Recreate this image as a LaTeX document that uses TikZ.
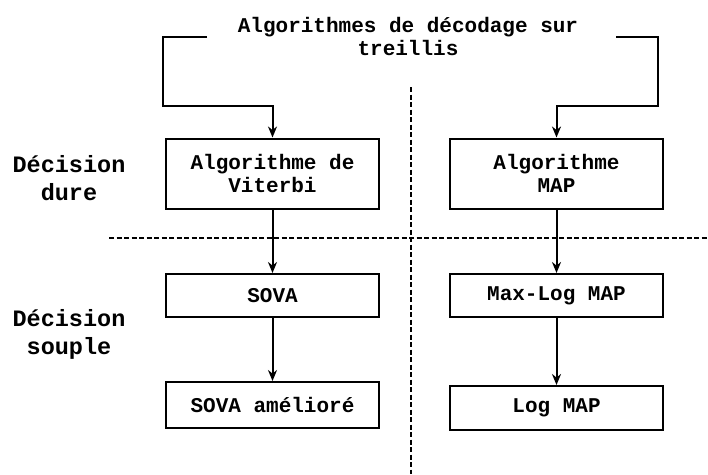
\documentclass[tikz,border=0pt]{standalone}
\usepackage{fontspec}
\setmainfont{Liberation Mono}
\usetikzlibrary{positioning,arrows.meta}
\begin{document}
\begin{tikzpicture}
         [x=1pt, y=-1pt, node distance=1.5cm,
          algo box/.style={rectangle,draw,line width=2pt,minimum width=213pt,
             align=center,inner sep=0pt,font=\fontsize{21}{23}\bfseries},
          level label/.style={align=center,font=\fontsize{23.5}{28}\bfseries},
          split line/.style={line width=1.5pt,dash pattern=on 5pt off 2.5pt},
          link/.style={-{Stealth[length=11pt,width=9pt]},line width=2pt}]
         \useasboundingbox (0,0) rectangle (708,474);
         \node[align=center,font=\fontsize{21}{23}\bfseries] (title) at (408,36)
            {Algorithmes de décodage sur\\treillis};
         \node[algo box, minimum height=70pt] (viterbi) at (272.5,173.5) {Algorithme de\\Viterbi};
         \node[algo box, minimum height=70pt] (map) at (556.5,173.5) {Algorithme\\MAP};
         \node[algo box, minimum height=43pt] (sova) at (272.5,295.5) {SOVA};
         \node[algo box, minimum height=43pt] (maxlog) at (556.5,295.5) {Max-Log MAP};
         \node[algo box, minimum height=46pt] (sovaplus) at (272.5,405) {SOVA amélioré};
         \node[algo box, minimum height=44pt] (logmap) at (556.5,408) {Log MAP};
         
         \node[level label] (hard) at (69,178) {Décision\\dure};
         \node[level label] (soft) at (69,334) {Décision\\souple};
         
         \coordinate (tl) at (207,37);
         \coordinate (tr) at (616,37);
         \draw[link] (tl) -- (163,37) -- (163,106) -| (viterbi.north);
         \draw[link] (tr) -- (658,37) -- (658,106) -| (map.north);
         
         \draw[link] (viterbi) -- (sova);
         \draw[link] (sova) -- (sovaplus);
         \draw[link] (map) -- (maxlog);
         \draw[link] (maxlog) -- (logmap);
         
         \draw[split line] (109,238) -- (708,238);
         \draw[split line] (411,87) -- (411,474);
      \end{tikzpicture}
\end{document}
